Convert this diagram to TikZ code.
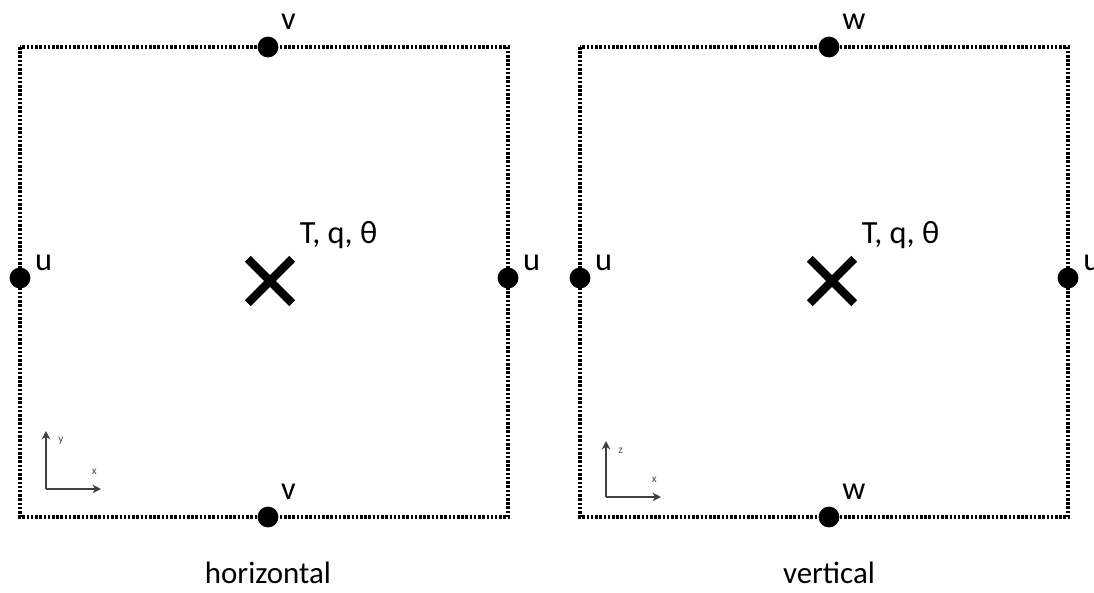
\documentclass[tikz,border=0pt]{standalone}
\usepackage{fontspec}
\setmainfont{Carlito}
\usetikzlibrary{positioning, arrows.meta, shapes.misc}
\tikzset{>=latex}

\begin{document}
\begin{tikzpicture}[x=0.025cm, y=-0.025cm,
    cell/.style={line width=2.2pt, dash pattern=on 1.8pt off 1.2pt},
    pt/.style={circle, fill=black, inner sep=0pt, minimum size=0.52cm},
    grid point/.style={cross out, draw, line width=6pt, minimum size=0.9cm, inner sep=0pt},
    lbl/.style={font=\fontsize{23}{27}\selectfont, inner sep=1pt},
    celltitle/.style={font=\fontsize{22}{26}\selectfont, inner sep=1pt},
    axis/.style={draw=black!75, line width=1.8pt, -{Stealth[length=6pt, width=6pt]}},
    tiny/.style={font=\fontsize{8}{9}\selectfont, text=black!70, inner sep=0pt}]
    \useasboundingbox (0,0) rectangle (1094,593);

    % horizontal cell
    \draw[cell] (20,47) rectangle (508,517);
    \node[pt] (vt1) at (268,47) {};
    \node[pt] (vb1) at (268,517) {};
    \node[pt] (ul1) at (20,278) {};
    \node[pt] (ur1) at (508,278) {};
    \node[lbl, above right=0.2cm and 0.1cm of vt1] {v};
    \node[lbl, above right=0.2cm and 0.1cm of vb1] {v};
    \node[lbl, above right=-0.05cm and 0.15cm of ul1] {u};
    \node[lbl, above right=-0.05cm and 0.15cm of ur1] {u};
    \node[grid point] (c1) at (270,281) {};
    \node[lbl, above right=0.2cm and 0.15cm of c1] {T, q, θ};

    \coordinate (o1) at (46,489);
    \coordinate (y1) at (46,431);
    \coordinate (x1) at (101,489);
    \draw[axis] (o1) -- (y1);
    \draw[axis] (o1) -- (x1);
    \node[tiny, right=0.3cm of y1, yshift=-0.25cm] {y};
    \node[tiny, above left=0.35cm and 0.1cm of x1] {x};

    \node[celltitle, below=0.82cm of vb1] (hcap) {horizontal};

    % vertical cell
    \draw[cell] (580,47) rectangle (1068,517);
    \node[pt] (wt2) at (829,47) {};
    \node[pt] (wb2) at (829,517) {};
    \node[pt] (ul2) at (580,278) {};
    \node[pt] (ur2) at (1068,278) {};
    \node[lbl, above right=0.2cm and 0.1cm of wt2] {w};
    \node[lbl, above right=0.2cm and 0.1cm of wb2] {w};
    \node[lbl, above right=-0.05cm and 0.15cm of ul2] {u};
    \node[lbl, above right=-0.05cm and 0.15cm of ur2] {u};
    \node[grid point] (c2) at (832,281) {};
    \node[lbl, above right=0.2cm and 0.15cm of c2] {T, q, θ};

    \coordinate (o2) at (606,497);
    \coordinate (z2) at (606,441);
    \coordinate (x2) at (661,497);
    \draw[axis] (o2) -- (z2);
    \draw[axis] (o2) -- (x2);
    \node[tiny, right=0.3cm of z2, yshift=-0.25cm] {z};
    \node[tiny, above left=0.35cm and 0.1cm of x2] {x};

    \node[celltitle, below=0.82cm of wb2] (vcap) {vertical};
\end{tikzpicture}
\end{document}
